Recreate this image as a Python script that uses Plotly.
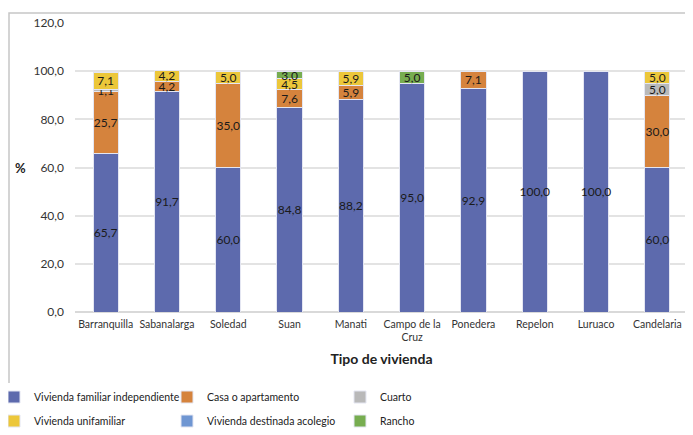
import plotly.graph_objects as go

categories = ["Barranquilla", "Sabanalarga", "Soledad", "Suan", "Manati",
              "Campo de la<br>Cruz", "Ponedera", "Repelon", "Luruaco", "Candelaria"]

vivienda_familiar_independiente = [65.7, 91.7, 60.0, 84.8, 88.2, 95.0, 92.9, 100.0, 100.0, 60.0]
casa_o_apartamento = [25.7, 4.2, 35.0, 7.6, 5.9, 0, 7.1, 0, 0, 30.0]
cuarto = [1.1, 0, 0, 0, 0, 0, 0, 0, 0, 5.0]
vivienda_unifamiliar = [7.1, 4.2, 5.0, 4.5, 5.9, 0, 0, 0, 0, 5.0]
vivienda_colegio = [0, 0, 0, 0, 0, 0, 0, 0, 0, 0]
rancho = [0, 0, 0, 3.0, 0, 5.0, 0, 0, 0, 0]

series = [
    ("Vivienda familiar independiente", vivienda_familiar_independiente, "#5d6aad", "legend"),
    ("Casa o apartamento", casa_o_apartamento, "#d5833d", "legend"),
    ("Cuarto", cuarto, "#b9b9b9", "legend"),
    ("Vivienda unifamiliar", vivienda_unifamiliar, "#ecc73a", "legend2"),
    ("Vivienda destinada acolegio", vivienda_colegio, "#6f96d2", "legend2"),
    ("Rancho", rancho, "#77ad50", "legend2"),
]

FONT = "Lato, sans-serif"

def fmt(v):
    return f"{v:.1f}".replace(".", ",") if v else ""

fig = go.Figure()
for name, vals, color, leg in series:
    fig.add_trace(go.Bar(
        x=categories, y=[v if v else None for v in vals], name=name,
        marker=dict(color=color, line=dict(color="#e4e6f2", width=1)),
        text=[fmt(v) for v in vals], textposition="inside",
        insidetextanchor="middle", textangle=0,
        textfont=dict(color="#1a1a1a", size=12, family=FONT),
        legend=leg, hoverinfo="x+y+name",
    ))

# page has an 8px body margin; figure origin sits at page (8, 8)
W, H = 685, 427
OFF = 8
L, R, T, B = 67, 5, 15, 123
PW, PH = W - L - R, H - T - B

def px2x(page_x):
    return (page_x - OFF - L) / PW

def py2y(page_y):
    return (H - B - (page_y - OFF)) / PH

leg_common = dict(orientation="h", xanchor="left", yanchor="middle", traceorder="normal",
                  xref="paper", yref="paper",
                  entrywidth=128, font=dict(size=10.5, color="#222222"), itemwidth=30)

fig.update_layout(
    width=W, height=H,
    barmode="stack", bargap=0.59,
    separators=",.",
    font=dict(family=FONT, color="#333333"),
    paper_bgcolor="white", plot_bgcolor="white",
    margin=dict(l=L, r=R, t=T, b=B, autoexpand=False),
    uniformtext=dict(minsize=12, mode="show"),
    xaxis=dict(
        tickfont=dict(size=10.5, color="#333333"), tickangle=0, automargin=False,
        ticklabelstandoff=4,
        title=dict(text="<b>Tipo de vivienda</b>", font=dict(size=14, color="#222222"), standoff=12),
        showline=False, ticks="",
    ),
    yaxis=dict(
        range=[0, 120], dtick=20, tickformat=".1f", automargin=False,
        tickfont=dict(size=12, color="#333333"),
        gridcolor="#e3e3e3", gridwidth=1.5, zeroline=True, zerolinecolor="#d9d9d9", zerolinewidth=1.5,
        ticks="", ticklabelstandoff=10,
    ),
    showlegend=True,
    legend=dict(x=px2x(-6), y=py2y(397), **leg_common),
    legend2=dict(x=px2x(-6), y=py2y(421), **leg_common),
    annotations=[dict(text="<b>%</b>", x=px2x(20), y=py2y(168), xref="paper", yref="paper",
                      xanchor="center", yanchor="middle",
                      showarrow=False, font=dict(size=13, color="#222222"))],
    shapes=[dict(type="rect", xref="paper", yref="paper", x0=px2x(9), y0=py2y(450),
                 x1=px2x(710), y1=py2y(13), line=dict(color="#c6c6c6", width=1.5), layer="below")],
)

fig.write_html("out.html")
